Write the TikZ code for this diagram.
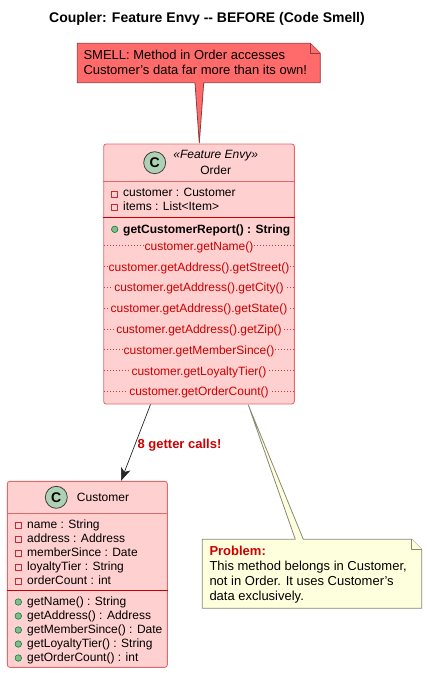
\documentclass[tikz,border=0pt]{standalone}
\usepackage{fontspec}
\setmainfont{Liberation Sans}
\usetikzlibrary{arrows.meta,calc}

\definecolor{classpink}{HTML}{FFD0D0}
\definecolor{classedge}{HTML}{E06A6A}
\definecolor{smellred}{HTML}{FF6B6B}
\definecolor{smelledge}{HTML}{8E3B3B}
\definecolor{noteyellow}{HTML}{FEFFDD}
\definecolor{noteedge}{HTML}{888878}
\definecolor{alertred}{HTML}{CC0000}
\definecolor{spotgreen}{HTML}{ADD1B2}
\definecolor{methodgreen}{HTML}{84BE84}
\definecolor{methodedge}{HTML}{038048}
\definecolor{fieldedge}{HTML}{C82930}

\newcommand{\umlfont}{\fontsize{12}{14}\selectfont}
\newcommand{\notefont}{\fontsize{13}{15}\selectfont}

\begin{document}
\begin{tikzpicture}[
  x=1pt,y=-1pt,
  >=Stealth,
  line join=round,
  classbox/.style={draw=classedge,fill=classpink,line width=0.9pt,rounded corners=2.5pt,inner sep=0pt},
  rule/.style={draw=classedge,line width=0.9pt},
  redrule/.style={draw=alertred,line width=0.9pt},
  spot/.style={circle,draw=black!75,fill=spotgreen,line width=0.8pt,minimum size=22pt,inner sep=0pt,font=\fontsize{14}{14}\selectfont\bfseries},
  member/.style={anchor=west,inner sep=0pt,text height=9pt,text depth=3pt,font=\umlfont},
  field/.style={draw=fieldedge,line width=0.8pt,minimum size=6.2pt,inner sep=0pt},
  method/.style={circle,draw=methodedge,fill=methodgreen,line width=0.6pt,minimum size=6.5pt,inner sep=0pt},
  getter/.style={fill=classpink,inner sep=1pt,text height=9pt,text depth=3pt,text=alertred,font=\umlfont},
  dots/.style={draw=alertred!80,line width=0.5pt,dash pattern=on 1pt off 2pt},
  smellnote/.style={draw=smelledge,fill=smellred,line width=0.8pt},
  plainnote/.style={draw=noteedge,fill=noteyellow,line width=0.8pt},
  notetext/.style={anchor=west,inner sep=0pt,text height=10pt,text depth=3pt,font=\notefont}
]
\useasboundingbox (0,0) rectangle (427,673);

\node[inner sep=0pt,font=\fontsize{14}{16}\selectfont\bfseries] (title) at (207,19.2)
  {Coupler: Feature Envy -{}- BEFORE (Code Smell)};

% ------------------------------------------------------------------
% Order
% ------------------------------------------------------------------
\node[classbox,minimum width=190.6pt,minimum height=260pt] (order) at (199,274) {};
\draw[rule] (order.west |- 0,181.5) -- (order.east |- 0,181.5);
\draw[redrule] (order.west |- 0,217) -- (order.east |- 0,217);

\node[spot] (orderspot) at (154.7,162.7) {C};
\node[inner sep=0pt,font=\umlfont\itshape] (orderstereo) at (215.7,156) {«Feature Envy»};
\node[inner sep=0pt,font=\umlfont] (ordername) at (215.7,170) {Order};

\node[field] (of1) at (114.7,194.5) {};
\node[member] (oa1) at (123,193.8) {customer : Customer};
\node[field] (of2) at (114.7,207.5) {};
\node[member] (oa2) at (123,207.8) {items : List<Item>};

\node[method] (om1) at (114.7,229.3) {};
\node[member,font=\umlfont\bfseries] (report) at (123,230.3) {getCustomerReport() : String};

\foreach \call [count=\i] in {getName(),getAddress().getStreet(),getAddress().getCity(),
    getAddress().getState(),getAddress().getZip(),getMemberSince(),getLoyaltyTier(),getOrderCount()}
{
  \draw[dots] (104,{245.7+(\i-1)*20.8}) -- (294,{245.7+(\i-1)*20.8});
  \node[getter] (call\i) at (199,{247.2+(\i-1)*20.8}) {customer.\call};
}

% ------------------------------------------------------------------
% Customer
% ------------------------------------------------------------------
\node[classbox,minimum width=160pt,minimum height=186pt] (customer) at (87.3,574.3) {};
\draw[rule] (customer.west |- 0,513.3) -- (customer.east |- 0,513.3);
\draw[redrule] (customer.west |- 0,590.7) -- (customer.east |- 0,590.7);

\node[spot] (custspot) at (56.3,497.3) {C};
\node[inner sep=0pt,font=\umlfont] (custname) at (103,497) {Customer};

\foreach \attr [count=\i] in {name : String,address : Address,memberSince : Date,loyaltyTier : String,orderCount : int}
{
  \node[field] (cf\i) at (18.3,{525.5+(\i-1)*14}) {};
  \node[member] (ca\i) at (27,{525.5+(\i-1)*14}) {\attr};
}
\foreach \meth [count=\i] in {getName() : String,getAddress() : Address,getMemberSince() : Date,getLoyaltyTier() : String,getOrderCount() : int}
{
  \node[method] (cm\i) at (18.3,{602+(\i-1)*14}) {};
  \node[member] (cg\i) at (27,{602.5+(\i-1)*14}) {\meth};
}

\draw[->,line width=0.7pt,black!85,>={Stealth[length=13pt,width=10pt,inset=3.5pt]}]
  ($(order.south)+(-48.5,0)$) -- ($(customer.north)+(33.7,0)$);
\node[inner sep=0pt,text=alertred,font=\notefont\bfseries] (gettercount) at (179.5,445.2) {8 getter calls!};

% ------------------------------------------------------------------
% Notes
% ------------------------------------------------------------------
\coordinate (smelltip) at ($(order.north)+(0.3,-0.5)$);
\draw[smellnote] (77.3,43.3) -- (310.3,43.3) -- (320.3,53.3) -- (320.3,82.7) -- (203.7,82.7)
  -- (smelltip) -- (195,82.7) -- (77.3,82.7) -- cycle;
\draw[smellnote] (310.3,43.3) -- (310.3,53.3) -- (320.3,53.3);
\node[notetext] (smell1) at (83.3,56.3) {SMELL: Method in Order accesses};
\node[notetext] (smell2) at (83.3,71.3) {Customer's data far more than its own!};

\coordinate (problemtip) at ($(order.south)+(49.3,0.5)$);
\draw[plainnote] (202.3,539.3) -- (295.3,539.3) -- (problemtip) -- (303.3,539.3) -- (411.7,539.3)
  -- (421.7,549.3) -- (421.7,608.3) -- (202.3,608.3) -- cycle;
\draw[plainnote] (411.7,539.3) -- (411.7,549.3) -- (421.7,549.3);
\node[notetext,font=\notefont\bfseries,text=alertred] (problem1) at (209.3,552.2) {Problem:};
\node[notetext] (problem2) at (209.3,567.2) {This method belongs in Customer,};
\node[notetext] (problem3) at (209.3,582.2) {not in Order. It uses Customer's};
\node[notetext] (problem4) at (209.3,597.2) {data exclusively.};

\end{tikzpicture}
\end{document}
